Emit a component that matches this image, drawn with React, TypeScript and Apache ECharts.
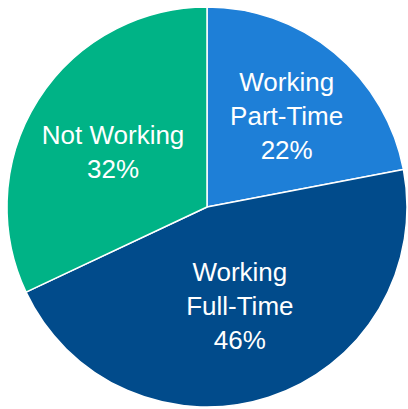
import React, { useEffect, useRef } from "react";
import * as echarts from "echarts";

const categories = ["Working\nPart-Time", "Working\nFull-Time", "Not Working"];
const values = [22, 46, 32];
const colors = ["#1e7fd7", "#014b8b", "#00b386"];
const labelOffsets = [[14, -12], [1, 1], [-7, 0]];

export default function App() {
  const ref = useRef<HTMLDivElement>(null);
  useEffect(() => {
    if (!ref.current) return;
    const chart = echarts.init(ref.current, null, { renderer: "svg" });
    chart.setOption({
      animation: false,
      series: [
        {
          type: "pie",
          center: [207, 207],
          radius: [0, 200],
          startAngle: 90,
          clockwise: true,
          itemStyle: { borderColor: "#ffffff", borderWidth: 1.5 },
          label: {
            show: true,
            position: "inside",
            formatter: "{b}\n{c}%",
            color: "#ffffff",
            fontSize: 26,
            lineHeight: 34,
            fontFamily: "Arial, 'Liberation Sans', sans-serif",
          },
          labelLine: { show: false },
          emphasis: { disabled: true },
          data: categories.map((name, i) => ({
            name,
            value: values[i],
            itemStyle: { color: colors[i] },
            label: { offset: labelOffsets[i] },
          })),
        },
      ],
    });
    return () => chart.dispose();
  }, []);
  return (
    <div
      ref={ref}
      style={{ position: "fixed", left: 0, top: 0, width: 408, height: 409, background: "#ffffff" }}
    />
  );
}
